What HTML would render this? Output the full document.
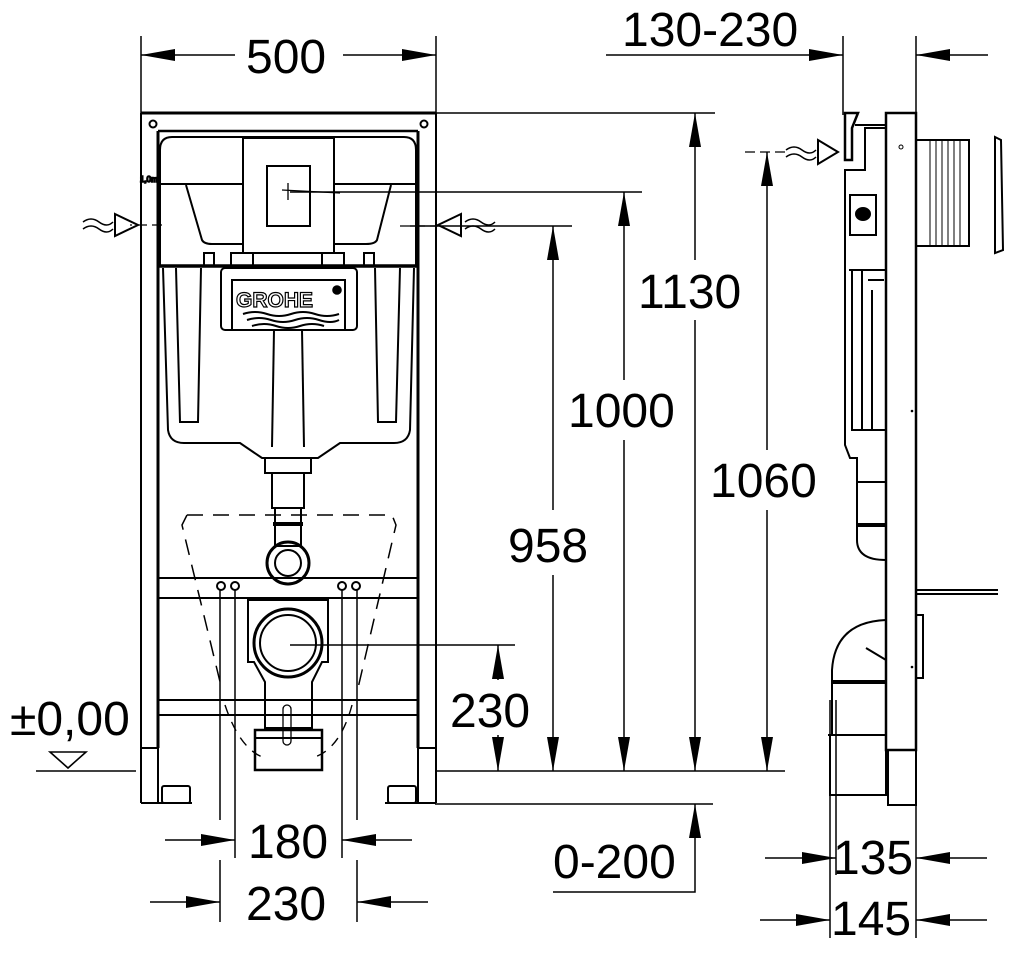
<!DOCTYPE html>
<html><head><meta charset="utf-8"><style>
html,body{margin:0;padding:0;background:#fff}
svg{display:block}
text{font-family:"Liberation Sans",Arial,sans-serif;font-size:48px;fill:#000}
</style></head><body>
<svg width="1019" height="956" viewBox="0 0 1019 956" xmlns="http://www.w3.org/2000/svg" fill="none" stroke="#000" stroke-width="1.6">
<defs>
<marker id="a" viewBox="0 0 34 12" refX="34" refY="6" markerWidth="34" markerHeight="12" markerUnits="userSpaceOnUse" orient="auto-start-reverse"><path d="M0,0 L34,6 L0,12 Z" fill="#000" stroke="none"/></marker>
</defs>

<g stroke-width="1.5">
<line x1="141" y1="36" x2="141" y2="113"/><line x1="436" y1="36" x2="436" y2="113"/>
<line x1="141" y1="55" x2="235" y2="55" marker-start="url(#a)"/>
<line x1="343" y1="55" x2="436" y2="55" marker-end="url(#a)"/>
<line x1="843" y1="36" x2="843" y2="115"/><line x1="916" y1="36" x2="916" y2="115"/>
<line x1="606" y1="55" x2="843" y2="55" marker-end="url(#a)"/>
<line x1="988" y1="55" x2="916" y2="55" marker-end="url(#a)"/>
<line x1="436" y1="113" x2="715" y2="113"/>
<line x1="290" y1="192" x2="642" y2="192"/>
<line x1="410" y1="226" x2="572" y2="226"/>
<line x1="290" y1="645" x2="515" y2="645"/>
<line x1="435" y1="771" x2="785" y2="771"/>
<line x1="435" y1="804" x2="713" y2="804"/>
<line x1="36" y1="771" x2="136" y2="771"/>
<line x1="695" y1="113" x2="695" y2="260" marker-start="url(#a)"/>
<line x1="695" y1="320" x2="695" y2="771" marker-end="url(#a)"/>
<line x1="624" y1="192" x2="624" y2="380" marker-start="url(#a)"/>
<line x1="624" y1="440" x2="624" y2="771" marker-end="url(#a)"/>
<line x1="553" y1="226" x2="553" y2="510" marker-start="url(#a)"/>
<line x1="553" y1="575" x2="553" y2="771" marker-end="url(#a)"/>
<line x1="767" y1="152" x2="767" y2="450" marker-start="url(#a)"/>
<line x1="767" y1="510" x2="767" y2="771" marker-end="url(#a)"/>
<line x1="498" y1="680" x2="498" y2="645" marker-end="url(#a)"/>
<line x1="498" y1="735" x2="498" y2="771" marker-end="url(#a)"/>
<polyline points="553,892 695,892 695,804" marker-end="url(#a)"/>
<line x1="165" y1="840" x2="235" y2="840" marker-end="url(#a)"/>
<line x1="412" y1="840" x2="342" y2="840" marker-end="url(#a)"/>
<line x1="150" y1="902" x2="220" y2="902" marker-end="url(#a)"/>
<line x1="428" y1="902" x2="357" y2="902" marker-end="url(#a)"/>
<line x1="220" y1="590" x2="220" y2="820"/><line x1="220" y1="860" x2="220" y2="922"/>
<line x1="235" y1="590" x2="235" y2="858"/>
<line x1="342" y1="590" x2="342" y2="858"/>
<line x1="357" y1="590" x2="357" y2="820"/><line x1="357" y1="860" x2="357" y2="922"/>
<line x1="830" y1="700" x2="830" y2="938"/><line x1="836" y1="700" x2="836" y2="875"/>
<line x1="916" y1="790" x2="916" y2="938"/>
<line x1="765" y1="858" x2="836" y2="858" marker-end="url(#a)"/>
<line x1="987" y1="858" x2="916" y2="858" marker-end="url(#a)"/>
<line x1="760" y1="920" x2="830" y2="920" marker-end="url(#a)"/>
<line x1="987" y1="920" x2="916" y2="920" marker-end="url(#a)"/>
</g>
<path d="M50,752 L86,752 L68,768 Z" stroke-width="1.6"/>

<g stroke="none">
<text x="246" y="73">500</text>
<text x="622" y="46">130-230</text>
<text x="638" y="308">1130</text>
<text x="568" y="427">1000</text>
<text x="508" y="562">958</text>
<text x="710" y="497">1060</text>
<text x="450" y="727">230</text>
<text x="10" y="735">±0,00</text>
<text x="248" y="858">180</text>
<text x="246" y="920">230</text>
<text x="553" y="878">0-200</text>
<text x="833" y="874">135</text>
<text x="831" y="935">145</text>
</g>

<g stroke-width="2">
<line x1="141" y1="113" x2="436" y2="113" stroke-width="3"/>
<line x1="158" y1="131" x2="418" y2="131" stroke-width="2.5"/>
<line x1="141" y1="113" x2="141" y2="803"/>
<line x1="436" y1="113" x2="436" y2="803"/>
<line x1="158" y1="131" x2="158" y2="748" stroke-width="3"/>
<line x1="418" y1="131" x2="418" y2="748" stroke-width="3"/>
<line x1="141" y1="748" x2="158" y2="748"/><line x1="418" y1="748" x2="436" y2="748"/>
<line x1="158" y1="748" x2="158" y2="803"/><line x1="418" y1="748" x2="418" y2="803"/>
<line x1="141" y1="803" x2="192" y2="803"/><line x1="385" y1="803" x2="436" y2="803"/>
<rect x="162" y="786" width="28" height="17" rx="2"/>
<rect x="388" y="786" width="28" height="17" rx="2"/>
<circle cx="153" cy="124" r="3.5"/><circle cx="424" cy="124" r="3.5"/>
<rect x="158" y="578" width="260" height="20"/>
<rect x="158" y="700" width="260" height="15"/>
<path d="M172,137 H404 Q416,137 416,150 V266 H160 V150 Q160,137 172,137 Z" stroke-width="2"/>
<line x1="160" y1="184" x2="243" y2="184"/><line x1="334" y1="184" x2="416" y2="184"/>
<path d="M186,185 L202,240 Q204,244 212,244 H243" />
<path d="M391,185 L377,240 Q375,244 366,244 H334" />
<rect x="243" y="138" width="91" height="115"/>
<rect x="267" y="166" width="43" height="60"/>
<line x1="282" y1="190" x2="340" y2="193" stroke-width="1.3"/><line x1="288" y1="183" x2="288" y2="200" stroke-width="1.3"/>
<line x1="158" y1="266" x2="418" y2="266" stroke-width="3.5"/>
<rect x="204" y="253" width="10" height="13"/><rect x="364" y="253" width="10" height="13"/>
<rect x="231" y="253" width="22" height="13"/><rect x="322" y="253" width="22" height="13"/>
<path d="M163,268 L168,430 Q170,443 184,443 H240 L262,458 H318 L340,443 H394 Q408,443 410,430 L414,268"/>
<path d="M176,268 L180,422 H198 L201,268"/><path d="M400,268 L396,422 H378 L375,268"/>
<line x1="274" y1="330" x2="272" y2="447"/><line x1="302" y1="330" x2="304" y2="447"/>
<rect x="221" y="268" width="136" height="62" rx="4"/>
<rect x="232" y="280" width="113" height="50"/>
<rect x="265" y="458" width="46" height="15"/>
<rect x="272" y="473" width="32" height="35"/>
<rect x="275" y="508" width="26" height="38"/>
<line x1="273" y1="524" x2="303" y2="524" stroke-width="4"/>
<circle cx="288" cy="563" r="21" stroke-width="3"/><circle cx="288" cy="563" r="13"/>
<circle cx="221" cy="586" r="4"/><circle cx="235" cy="586" r="4"/>
<circle cx="342" cy="586" r="4"/><circle cx="356" cy="586" r="4"/>
<path d="M248,600 H328 V662 H322 L312,682 V728 H265 V682 L254,662 H248 Z"/>
<circle cx="288" cy="643" r="34" stroke-width="3"/><circle cx="288" cy="643" r="28"/>
<rect x="255" y="730" width="67" height="40" stroke-width="2.5"/>
<line x1="255" y1="738" x2="322" y2="738"/>
<rect x="283" y="705" width="8" height="40" rx="4" stroke-width="1.3"/>
</g>
<path d="M187,515 H392 L396,525 L358,688 M187,515 L182,525 L222,690" stroke-width="1.5" stroke-dasharray="16,10"/>
<path d="M225,705 Q240,750 265,758 M352,705 Q340,750 312,758" stroke-width="1.4" stroke-dasharray="10,8"/>
<text x="236" y="307" style="font-size:21px;font-weight:bold;fill:#fff;stroke:#000;stroke-width:1.2">GROHE</text>
<circle cx="337" cy="290" r="4" fill="#000"/>
<path d="M243,314 q12,-4 24,0 t24,0 t24,0 t24,0 M247,320 q12,-4 24,0 t24,0 t24,0 t20,0 M252,326 q12,-4 24,0 t24,0 t24,0" stroke-width="2"/>
<path d="M115,214 L138,225 L115,236 Z" stroke-width="2"/>
<path d="M83,222 q8,-6 16,0 t14,0 M83,229 q8,-6 16,0 t14,0" stroke-width="1.5"/>
<path d="M162,225 L130,225" stroke-width="1.3" stroke-dasharray="10,5"/>
<path d="M461,214 L438,225 L461,236 Z" stroke-width="2"/>
<path d="M465,222 q8,-6 16,0 t14,0 M465,229 q8,-6 16,0 t14,0" stroke-width="1.5"/>
<path d="M400,226 L438,226" stroke-width="1.3" stroke-dasharray="10,5"/>
<text x="140" y="182" style="font-size:8px">1,0m</text>

<g stroke-width="2">
<rect x="886" y="113" width="30" height="637" stroke-width="2.5"/>
<rect x="888" y="750" width="28" height="55"/>
<path d="M917,140 H969 V246 H917"/>
<g stroke-width="1">
<line x1="930" y1="140" x2="930" y2="246"/><line x1="936" y1="140" x2="936" y2="246"/><line x1="942" y1="140" x2="942" y2="246"/>
<line x1="948" y1="140" x2="948" y2="246"/><line x1="954" y1="140" x2="954" y2="246"/><line x1="960" y1="140" x2="960" y2="246"/>
</g>
<path d="M995,137 L1001,140 L1003,250 L995,253 Z"/>
<path d="M886,128 H865 V170 H845 V445 L850,458 H857 V482 H886"/>
<rect x="850" y="195" width="26" height="40"/>
<ellipse cx="863" cy="214" rx="7" ry="6" fill="#000"/>
<line x1="849" y1="270" x2="886" y2="270"/>
<path d="M852,270 V430 H886 M862,270 V430 M868,280 H884 M872,290 V430"/>
<path d="M857,482 V540 Q857,560 886,560" />
<line x1="857" y1="525" x2="886" y2="525" stroke-width="4"/>
<path d="M886,620 Q835,622 832,670 V735 H886"/>
<path d="M866,648 L886,660"/>
<line x1="832" y1="682" x2="886" y2="682" stroke-width="4"/>
<path d="M828,735 H886 V795 H830 V735"/>
<line x1="916" y1="590" x2="998" y2="590"/><line x1="916" y1="594" x2="998" y2="594"/>
<rect x="916" y="615" width="7" height="63"/>
<path d="M845,113 L858,113 L852,128 V160 H845 Z" stroke-width="2.5"/>
<path d="M855,125 H886"/>
<path d="M818,140 L838,152 L818,164 Z" stroke-width="2"/>
<path d="M786,150 q8,-6 16,0 t14,0 M786,157 q8,-6 16,0 t14,0" stroke-width="1.5"/>
</g>
<line x1="745" y1="152" x2="786" y2="152" stroke-width="1.3" stroke-dasharray="10,5"/>
<circle cx="901" cy="147" r="2" stroke-width="1"/>
<circle cx="912" cy="411" r="1.3" fill="#000" stroke="none"/>
<circle cx="912" cy="667" r="1.3" fill="#000" stroke="none"/>
</svg>
</body></html>
